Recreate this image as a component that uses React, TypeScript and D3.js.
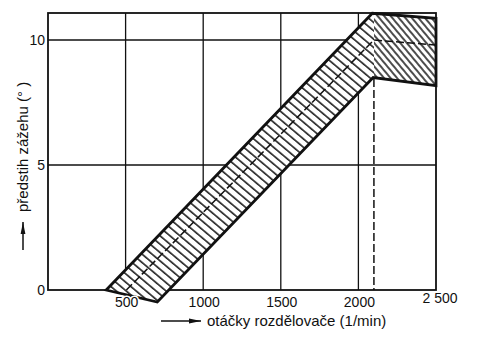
import React from "react";
import * as d3 from "d3";

const xTicks = [500, 1000, 1500, 2000, 2500];
const xTickLabels = ["500", "1000", "1500", "2000", "2 500"];
const yTicks = [0, 5, 10];
const yTickLabels = ["0", "5", "10"];

// band edges (speed [1/min], advance [deg])
const upperSpeed = [375, 2090, 2500];
const upperAdvance = [0, 11.07, 10.87];
const lowerSpeed = [704, 2095, 2500];
const lowerAdvance = [-0.48, 8.5, 8.17];
// middle dashed curve
const midSpeed = [505, 2100, 2500];
const midAdvance = [0, 10.0, 9.8];
const limitSpeed = 2100;

const W = 480;
const H = 338;
const left = 48;
const right = 436;
const top = 13;
const bottom = 290;

export default function App() {
  const x = d3.scaleLinear().domain([0, 2500]).range([left, right]);
  const y = d3.scaleLinear().domain([0, 10]).range([bottom, 40]);
  const ink = "#111";

  const upper = upperSpeed.map((s, i) => [s, upperAdvance[i]] as [number, number]);
  const lower = lowerSpeed.map((s, i) => [s, lowerAdvance[i]] as [number, number]);
  const mid = midSpeed.map((s, i) => [s, midAdvance[i]] as [number, number]);

  const line = d3
    .line<[number, number]>()
    .x((d) => x(d[0]))
    .y((d) => y(d[1]));

  const bandPts = [...upper, ...lower.slice().reverse()];
  const bandPath = line(bandPts) + "Z";

  const font = "'Liberation Sans', Arial, sans-serif";

  return (
    <svg
      width={W}
      height={H}
      viewBox={`0 0 ${W} ${H}`}
      style={{ position: "absolute", left: 0, top: 0, background: "#fff" }}
    >
      <defs>
        <pattern id="hatchA" width={10} height={6.4} patternUnits="userSpaceOnUse" patternTransform="rotate(40)">
          <line x1={-2} y1={1} x2={12} y2={1} stroke={ink} strokeWidth={1.5} />
        </pattern>
        <pattern id="hatchB" width={10} height={5} patternUnits="userSpaceOnUse" patternTransform="rotate(50)">
          <line x1={-2} y1={1} x2={12} y2={1} stroke={ink} strokeWidth={1.5} />
        </pattern>
        <clipPath id="clipL">
          <rect x={0} y={0} width={x(limitSpeed)} height={H} />
        </clipPath>
        <clipPath id="clipR">
          <rect x={x(limitSpeed)} y={0} width={W - x(limitSpeed)} height={H} />
        </clipPath>
        <marker id="arr" viewBox="0 0 12 6" refX={12} refY={3} markerWidth={12} markerHeight={6} markerUnits="userSpaceOnUse" orient="auto">
          <path d="M0,0.6 L12,3 L0,5.4 Z" fill={ink} />
        </marker>
      </defs>

      {/* grid */}
      {xTicks.slice(0, -1).map((t) => (
        <line key={"gx" + t} x1={x(t)} x2={x(t)} y1={top} y2={bottom} stroke={ink} strokeWidth={1.3} />
      ))}
      {yTicks.slice(1).map((t) => (
        <line key={"gy" + t} x1={left} x2={right} y1={y(t)} y2={y(t)} stroke={ink} strokeWidth={1.5} />
      ))}
      {/* frame */}
      <rect x={left} y={top} width={right - left} height={bottom - top} fill="none" stroke={ink} strokeWidth={1.8} />

      {/* limit dashed vertical */}
      <line x1={x(limitSpeed)} x2={x(limitSpeed)} y1={top} y2={bottom} stroke={ink} strokeWidth={1.5} strokeDasharray="8,3" />

      {/* band hatch */}
      <path d={bandPath} fill="#fff" />
      <path d={bandPath} fill="url(#hatchA)" clipPath="url(#clipL)" />
      <path d={bandPath} fill="url(#hatchB)" clipPath="url(#clipR)" />

      {/* middle dashed */}
      <path d={line(mid) || ""} fill="none" stroke={ink} strokeWidth={1.5} strokeDasharray="8,3" />

      {/* band outline */}
      <path d={bandPath} fill="none" stroke={ink} strokeWidth={2.8} strokeLinejoin="miter" />

      {/* y tick labels */}
      {yTicks.map((t, i) => (
        <text key={"yl" + t} x={45} y={y(t) + 5} textAnchor="end" fontFamily={font} fontSize={14} fill={ink}>
          {yTickLabels[i]}
        </text>
      ))}
      {/* x tick labels */}
      {xTicks.map((t, i) => (
        <text
          key={"xl" + t}
          x={t === 2500 ? x(t) + 4 : x(t) + 1}
          y={t === 2500 ? 303 : 307}
          textAnchor="middle"
          fontFamily={font}
          fontSize={14}
          fill={ink}
          stroke="#fff"
          strokeWidth={t === 500 ? 3 : 0}
          paintOrder="stroke"
        >
          {xTickLabels[i]}
        </text>
      ))}

      {/* x axis title */}
      <line x1={161} x2={201} y1={321} y2={321} stroke={ink} strokeWidth={1.5} markerEnd="url(#arr)" />
      <text x={207} y={326} fontFamily={font} fontSize={15} fill={ink}>
        otáčky rozdělovače (1/min)
      </text>

      {/* y axis title */}
      <line x1={23} x2={23} y1={250} y2={222} stroke={ink} strokeWidth={1.5} markerEnd="url(#arr)" />
      <text transform="translate(28,212) rotate(-90)" fontFamily={font} fontSize={15} fill={ink}>
        předstih  zážehu (° )
      </text>
    </svg>
  );
}
